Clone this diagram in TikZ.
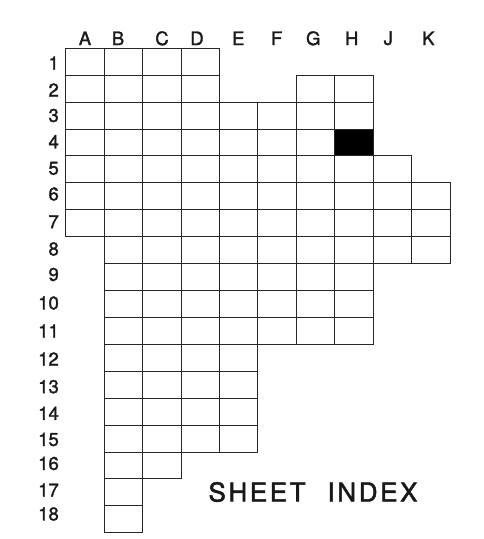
\documentclass[tikz,border=0pt]{standalone}
\usepackage{fontspec}
\setmainfont[FakeBold=1.6]{TeX Gyre Heros}
\newfontfamily\titlefont[LetterSpace=10,FakeBold=2]{TeX Gyre Heros}
\begin{document}
\begin{tikzpicture}[x=1pt,y=-1pt,
  cell/.style={draw=black!85, line width=0.9pt, minimum width=38.43pt, minimum height=26.91pt,
    inner sep=0pt, outer sep=0pt, anchor=north west},
  lab/.style={font=\fontsize{18.5}{18.5}\selectfont, inner sep=0pt, text=black!90},
  titlestyle/.style={font=\titlefont\fontsize{26}{26}\selectfont, inner sep=0pt, text=black!90}]
\useasboundingbox (0,0) rectangle (484,539);
% grid cells: row / first column / last column (A=0 ... K=9)
\foreach \r/\a/\b in {1/0/3, 2/0/3, 2/6/7, 3/0/7, 4/0/7, 5/0/8, 6/0/9, 7/0/9, 8/1/9,
  9/1/7, 10/1/7, 11/1/7, 12/1/4, 13/1/4, 14/1/4, 15/1/4, 16/1/2, 17/1/1, 18/1/1} {
  \foreach \c in {\a,...,\b} {
    \node[cell] (cell-\c-\r) at ({65.7+\c*38.43},{48.3+(\r-1)*26.91}) {};
  }
}
% highlighted sheet H4
\node[cell, fill=black] (sheetH4) at ({65.7+7*38.43},{48.3+3*26.91}) {};
% column labels
\foreach \l/\x in {A/85, B/118, C/162, D/197, E/238.3, F/276.7, G/313.3, H/351.7, J/388.3, K/428.3} {
  \node[lab] (col\l) at (\x,38.3) {\l};
}
% row labels
\foreach \r/\y in {1/63, 2/90, 3/115.5, 4/141.7, 5/168.3, 6/194, 7/221.7, 8/249, 9/274.5,
  10/303, 11/331, 12/359, 13/386.7, 14/413.3, 15/439.5, 16/463.5, 17/490, 18/514} {
  \node[lab, anchor=east] (row\r) at (59,\y) {\r};
}
\node[titlestyle] (title) at (313,492) {SHEET\hspace{22pt}INDEX};
\end{tikzpicture}
\end{document}
